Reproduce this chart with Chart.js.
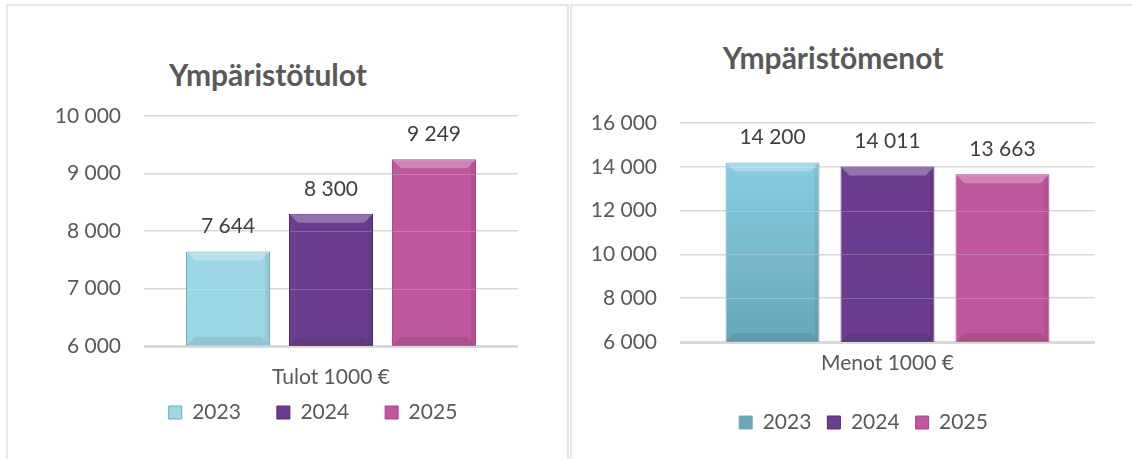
<!DOCTYPE html>
<html lang="fi">
<head>
<meta charset="UTF-8">
<title>Ympäristötulot ja -menot</title>
<script src="https://cdn.jsdelivr.net/npm/chart.js@4/dist/chart.umd.min.js"></script>
<style>
  body { margin: 0; background: #fff; font-family: Lato, "Open Sans", sans-serif; }
  .wrap { position: relative; width: 1132px; height: 459px; overflow: hidden; }
  .panel { position: absolute; top: 4px; border-top: 2px solid #e6e6e6; }
  #leftPanel { left: 6px; width: 559px; height: 460px; border-left: 2px solid #e6e6e6; border-right: 2px solid #e6e6e6; }
  #rightPanel { left: 570px; width: 562px; height: 460px; border-left: 2px solid #e6e6e6; }
  .panel canvas { position: absolute; top: 0; }
  .title { position: absolute; font-weight: bold; font-size: 30px; color: #595959; white-space: nowrap; transform: translate(-50%, -50%); }
</style>
</head>
<body>
<div class="wrap">
  <div class="panel" id="leftPanel">
    <div class="title" style="left:260px; top:68px;">Ympäristötulot</div>
    <canvas id="incomeChart" width="557" height="453"></canvas>
  </div>
  <div class="panel" id="rightPanel">
    <div class="title" style="left:261px; top:51px;">Ympäristömenot</div>
    <canvas id="costChart" width="560" height="453"></canvas>
  </div>
</div>
<script>
  // data, 1000 €
  const years = ['2023', '2024', '2025'];
  const incomeCategory = ['Tulot 1000 €'];
  const incomeValues = [7644, 8300, 9249];
  const incomeTicks = [6000, 7000, 8000, 9000, 10000];
  const costCategory = ['Menot 1000 €'];
  const costValues = [14200, 14011, 13663];
  const costTicks = [6000, 8000, 10000, 12000, 14000, 16000];

  const fills = ['#9dd6e5', '#6a3d8e', '#be579b'];
  const borders = ['#72aab8', '#58287c', '#b0428d'];
  const FONT = 'Lato, sans-serif';

  const fmt = v => String(v).replace(/\B(?=(\d{3})+(?!\d))/g, ' ');

  // value labels above the bars
  const valueLabels = {
    id: 'valueLabels',
    afterDatasetsDraw(chart) {
      const ctx = chart.ctx;
      ctx.save();
      ctx.font = '21px ' + FONT;
      ctx.fillStyle = '#404040';
      ctx.textAlign = 'center';
      ctx.textBaseline = 'middle';
      chart.data.datasets.forEach((ds, i) => {
        chart.getDatasetMeta(i).data.forEach((bar, j) => {
          ctx.fillText(fmt(ds.data[j]), bar.x, bar.y - 25);
        });
      });
      ctx.restore();
    }
  };

  // bevel look + faint gridlines seen through the bars
  const bevel = {
    id: 'bevel',
    afterDatasetsDraw(chart) {
      const ctx = chart.ctx;
      const yScale = chart.scales.y;
      ctx.save();
      chart.data.datasets.forEach((ds, i) => {
        chart.getDatasetMeta(i).data.forEach(bar => {
          const l = bar.x - bar.width / 2, r = bar.x + bar.width / 2;
          const t = bar.y, b = Math.min(bar.base, chart.chartArea.bottom), e = 9;
          ctx.fillStyle = 'rgba(255,255,255,0.28)';
          ctx.beginPath();
          ctx.moveTo(l + 1, t + 1); ctx.lineTo(r - 1, t + 1);
          ctx.lineTo(r - e, t + e); ctx.lineTo(l + e, t + e);
          ctx.closePath(); ctx.fill();
          ctx.fillStyle = 'rgba(0,0,0,0.08)';
          ctx.beginPath();
          ctx.moveTo(l + 1, b - 1); ctx.lineTo(r - 1, b - 1);
          ctx.lineTo(r - e, b - e); ctx.lineTo(l + e, b - e);
          ctx.closePath(); ctx.fill();
          ctx.fillStyle = 'rgba(0,0,0,0.06)';
          ctx.fillRect(r - 5, t + 2, 4, b - t - 4);
          ctx.strokeStyle = 'rgba(255,255,255,0.22)';
          ctx.lineWidth = 1;
          yScale.ticks.forEach(tk => {
            const py = Math.round(yScale.getPixelForValue(tk.value)) + 0.5;
            if (py > t + 2 && py < b - 2) {
              ctx.beginPath(); ctx.moveTo(l + 1, py); ctx.lineTo(r - 1, py); ctx.stroke();
            }
          });
        });
      });
      ctx.restore();
    }
  };

  // move the legend a bit after layout (spacing like the original)
  const legendNudge = {
    id: 'legendNudge',
    afterLayout(chart, args, opts) {
      const lg = chart.legend;
      lg.left += opts.dx; lg.right += opts.dx;
      lg.top += opts.dy; lg.bottom += opts.dy;
    }
  };

  function makeChart(id, cfg) {
    const datasets = years.map((y, i) => ({
      label: y,
      data: [cfg.values[i]],
      backgroundColor: cfg.fills ? cfg.fills[i] : fills[i],
      borderColor: borders[i],
      borderWidth: 1,
      categoryPercentage: cfg.catPct,
      barPercentage: cfg.barPct
    }));
    return new Chart(document.getElementById(id), {
      type: 'bar',
      data: { labels: cfg.category, datasets: datasets },
      plugins: [bevel, valueLabels, legendNudge],
      options: {
        responsive: false,
        animation: false,
        layout: { padding: cfg.padding },
        plugins: {
          tooltip: { enabled: false },
          legendNudge: { dx: cfg.legendDx, dy: cfg.legendDy },
          legend: {
            position: 'bottom',
            labels: {
              boxWidth: 13, boxHeight: 13,
              padding: cfg.legendPad,
              color: '#595959',
              font: { size: 21, family: FONT }
            }
          }
        },
        scales: {
          x: {
            grid: { display: false, drawTicks: false },
            border: { display: false },
            ticks: {
              color: '#595959', padding: cfg.xPad,
              font: { size: 21, family: FONT }
            },
            afterFit: s => { s.height = cfg.xHeight; }
          },
          y: {
            min: cfg.ticks[0],
            max: cfg.ticks[cfg.ticks.length - 1],
            afterBuildTicks: s => { s.ticks = cfg.ticks.map(v => ({ value: v })); },
            grid: {
              drawTicks: false,
              color: '#d9d9d9',
              lineWidth: c => (c.tick && c.tick.value === cfg.ticks[0] ? 3 : 1.5)
            },
            border: { display: false },
            ticks: {
              color: '#595959', padding: 23,
              font: { size: 21, family: FONT },
              callback: v => fmt(v)
            },
            afterFit: s => { s.width = cfg.yWidth; }
          }
        }
      }
    });
  }

  makeChart('incomeChart', {
    category: incomeCategory, values: incomeValues, ticks: incomeTicks,
    catPct: 0.826, barPct: 0.816,
    padding: { left: 40, right: 47, top: 110, bottom: 2 },
    yWidth: 96, xHeight: 44, xPad: 19,
    legendPad: 36, legendDx: 30, legendDy: -24
  });

  const costCtx = document.getElementById('costChart').getContext('2d');
  const teal = costCtx.createLinearGradient(0, 117, 0, 336);
  teal.addColorStop(0, '#90d4ea');
  teal.addColorStop(1, '#68a7b6');

  makeChart('costChart', {
    category: costCategory, values: costValues, ticks: costTicks,
    fills: [teal, fills[1], fills[2]],
    catPct: 0.831, barPct: 0.817,
    padding: { left: 0, right: 37, top: 117, bottom: 16 },
    yWidth: 108, xHeight: 54, xPad: 9,
    legendPad: 16, legendDx: 30, legendDy: 0
  });
</script>
</body>
</html>
